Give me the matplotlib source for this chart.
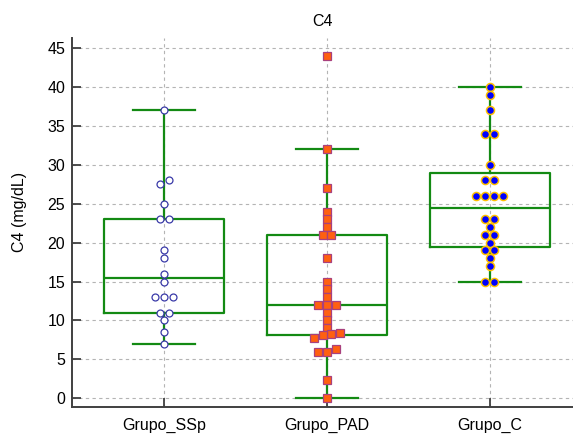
import matplotlib
matplotlib.use("Agg")
import matplotlib.pyplot as plt
import numpy as np

plt.rcParams["font.family"] = ["Liberation Sans", "DejaVu Sans"]

# values (mg/dL)
groups = ["Grupo_SSp", "Grupo_PAD", "Grupo_C"]
ssp = [37, 28, 27.5, 25, 23, 23, 19, 18, 16, 15, 13, 13, 13, 11, 11, 10, 8.5, 7]
pad = [44, 32, 27, 24, 23, 22, 21, 21, 18, 15, 14, 13, 12, 12, 12, 11, 10, 9,
       8.4, 8.3, 8.1, 7.8, 6.3, 6, 6, 2.3, 0]
grp_c = [40, 39, 37, 34, 34, 30, 28, 28, 26, 26, 26, 26, 23, 23, 22, 21, 21,
         20, 19, 19, 18, 17, 15, 15]
yticks = [0, 5, 10, 15, 20, 25, 30, 35, 40, 45]

GREEN = "#138a13"
AXIS = "#404040"


def box_stats(values, label):
    v = np.sort(np.asarray(values, dtype=float))
    q1, med, q3 = np.percentile(v, [25, 50, 75], method="hazen")
    iqr = q3 - q1
    return dict(med=med, q1=q1, q3=q3,
                whislo=v[v >= q1 - 1.5 * iqr].min(),
                whishi=v[v <= q3 + 1.5 * iqr].max(),
                fliers=[], label=label)


def swarm_offsets(values, gap=0.055, tol=0.55):
    # points closer than tol are spread side by side, lowest on the left
    values = np.asarray(values, dtype=float)
    order = np.argsort(values, kind="stable")
    offsets = np.zeros(len(values))
    clusters = [[order[0]]]
    for prev, idx in zip(order[:-1], order[1:]):
        if values[idx] - values[prev] < tol:
            clusters[-1].append(idx)
        else:
            clusters.append([idx])
    for cl in clusters:
        n = len(cl)
        for k, i in enumerate(cl):
            offsets[i] = (k - (n - 1) / 2) * gap
    return offsets


fig = plt.figure(figsize=(5.73, 4.34), dpi=100)
ax = fig.add_axes([0.1257, 0.0622, 0.8743, 0.8502])

data = [ssp, pad, grp_c]
positions = [1, 2, 3]
stats = [box_stats(d, g) for d, g in zip(data, groups)]
line = dict(color=GREEN, linewidth=1.6)
ax.bxp(stats, positions=positions, widths=0.74, capwidths=0.38,
       showfliers=False, boxprops=line, whiskerprops=line, capprops=line,
       medianprops=line, zorder=3)

styles = [
    dict(marker="o", markersize=5.0, markerfacecolor="white",
         markeredgecolor="#3a3aa8", markeredgewidth=0.9),
    dict(marker="s", markersize=5.4, markerfacecolor="#ff6010",
         markeredgecolor="#a8407e", markeredgewidth=0.9),
    dict(marker="o", markersize=5.8, markerfacecolor="#0000ff",
         markeredgecolor="#ffc000", markeredgewidth=1.1),
]
for pos, d, st in zip(positions, data, styles):
    ax.plot(pos + swarm_offsets(d), d, linestyle="none", zorder=5, **st)

ax.set_xlim(0.435, 3.51)
ax.set_ylim(-1.12, 46.3)
ax.set_xticks(positions)
ax.set_xticklabels(groups)
ax.set_yticks(yticks)

ax.grid(True, color="#b4b4b4", linestyle=(0, (3, 3)), linewidth=0.8)
ax.set_axisbelow(True)
for side in ("top", "right"):
    ax.spines[side].set_visible(False)
for side in ("left", "bottom"):
    ax.spines[side].set_color(AXIS)
    ax.spines[side].set_linewidth(1.4)
ax.tick_params(direction="in", length=6.5, width=1.3, color=AXIS,
               labelsize=11.5, labelcolor="black")
ax.tick_params(axis="x", pad=8)
ax.tick_params(axis="y", pad=5)

ax.set_title("C4", fontsize=11.5, pad=9)
ax.set_ylabel("C4 (mg/dL)", fontsize=11.5)
ax.yaxis.set_label_coords(-0.09, 0.53)

fig.savefig("out.png", dpi=100)
